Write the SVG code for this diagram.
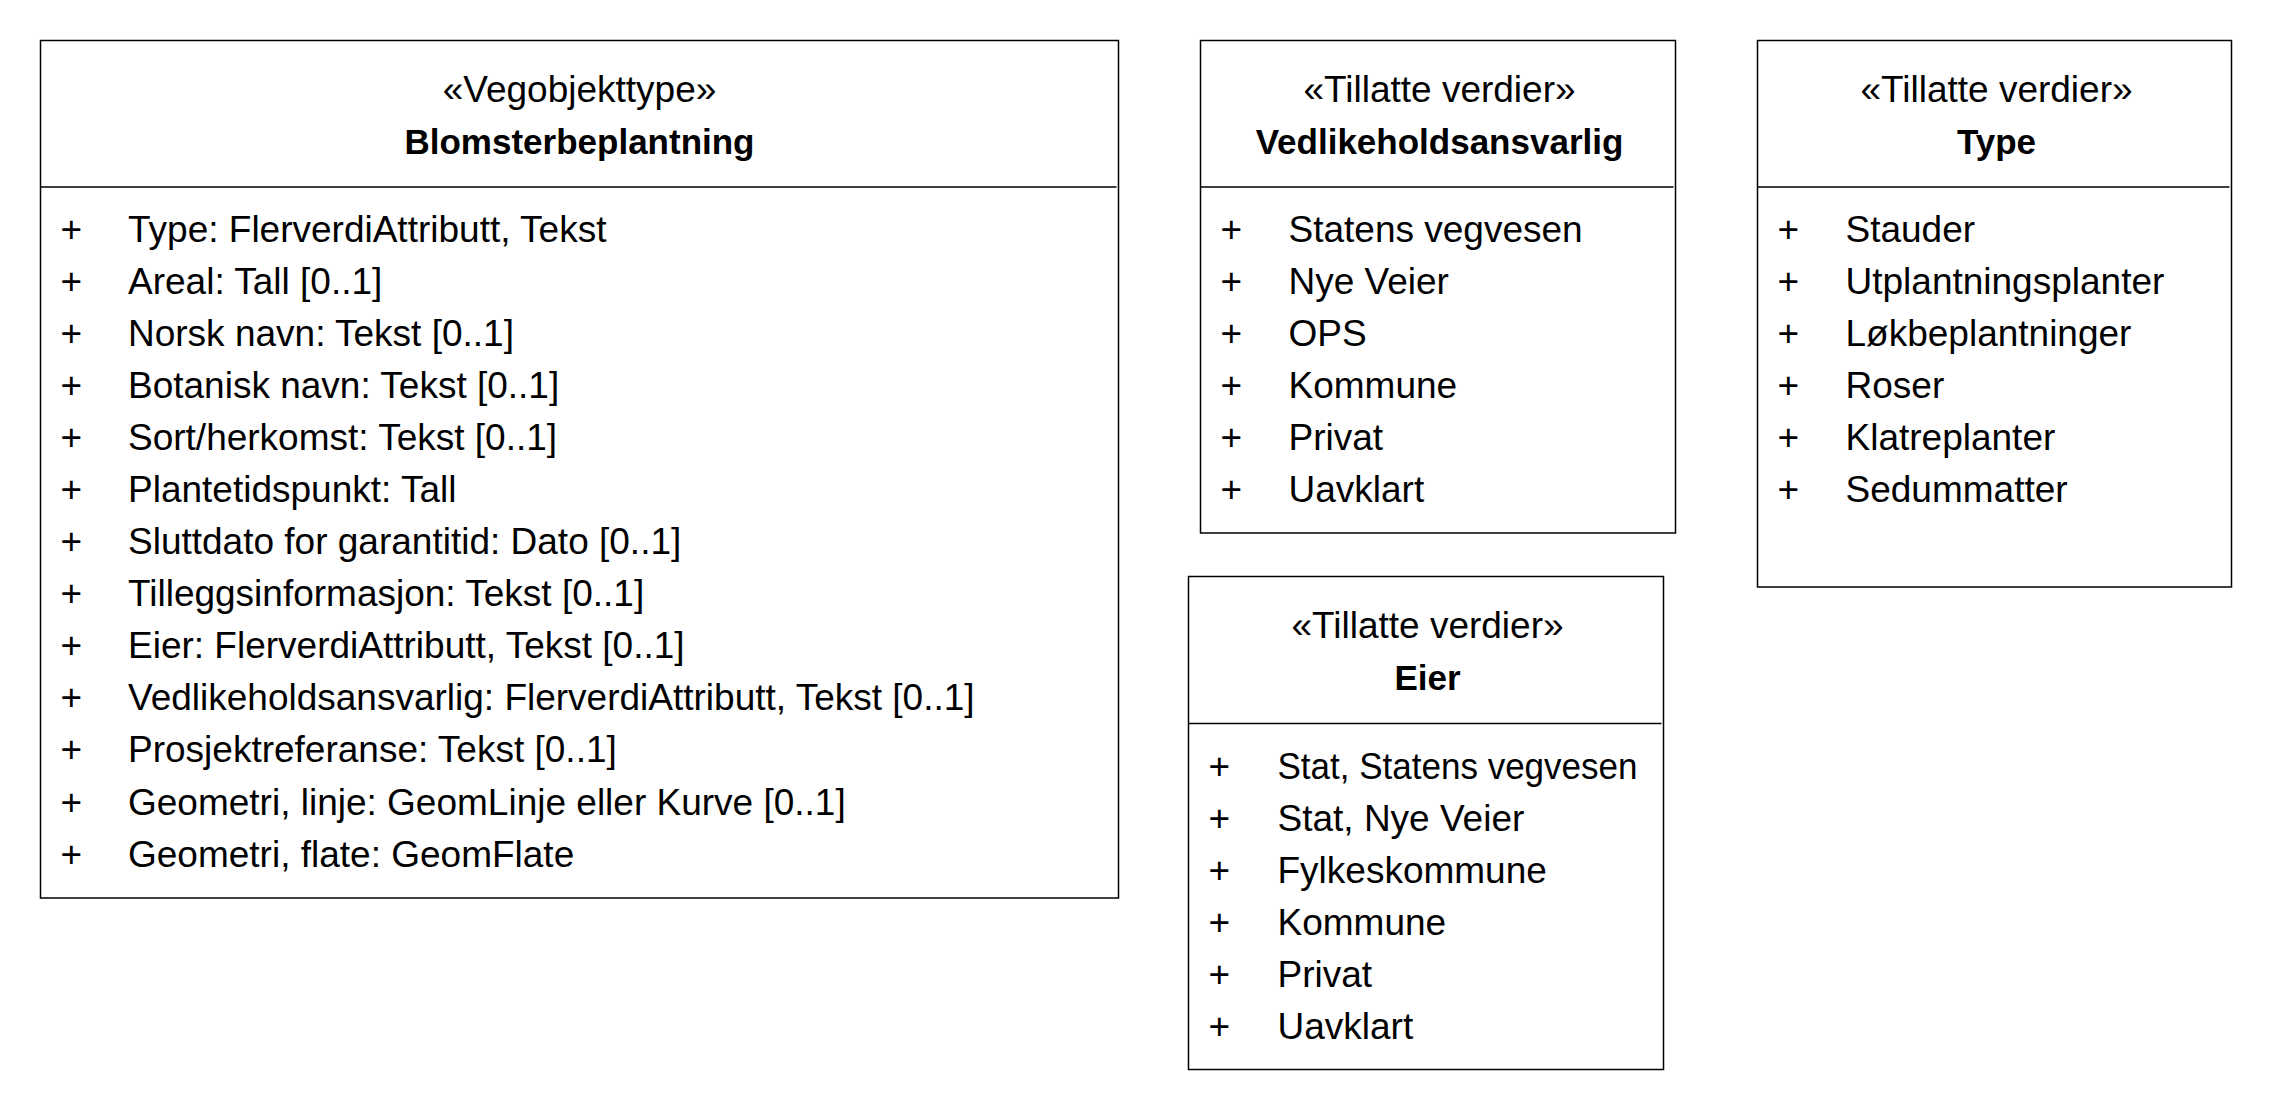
<svg xmlns="http://www.w3.org/2000/svg" width="2272" height="1112" viewBox="0 0 2272 1112">
<style>
  .box { fill: #ffffff; stroke: #000000; stroke-width: 1.5; }
  .div { stroke: #000000; stroke-width: 1.5; }
  text { font-family: "Liberation Sans", Arial, sans-serif; fill: #000000; }
  .st { font-size: 37px; text-anchor: middle; }
  .nm { font-size: 35px; font-weight: bold; text-anchor: middle; }
  .it { font-size: 37px; }
</style>
<rect x="0" y="0" width="2272" height="1112" fill="#ffffff"/>
<g id="connectors"></g>

<g id="blomsterbeplantning" transform="translate(40.5,40.5)">
  <rect class="box" x="0" y="0" width="1078" height="857.5"/>
  <line class="div" x1="0" y1="146.5" x2="1076" y2="146.5"/>
  <text class="st" x="539" y="61">«Vegobjekttype»</text>
  <text class="nm" x="539" y="113">Blomsterbeplantning</text>
  <text class="it" x="20" y="201.5">+</text><text class="it" x="87.5" y="201.5">Type: FlerverdiAttributt, Tekst</text>
  <text class="it" x="20" y="253.5">+</text><text class="it" x="87.5" y="253.5">Areal: Tall [0..1]</text>
  <text class="it" x="20" y="305.6">+</text><text class="it" x="87.5" y="305.6">Norsk navn: Tekst [0..1]</text>
  <text class="it" x="20" y="357.6">+</text><text class="it" x="87.5" y="357.6">Botanisk navn: Tekst [0..1]</text>
  <text class="it" x="20" y="409.7">+</text><text class="it" x="87.5" y="409.7">Sort/herkomst: Tekst [0..1]</text>
  <text class="it" x="20" y="461.7">+</text><text class="it" x="87.5" y="461.7">Plantetidspunkt: Tall</text>
  <text class="it" x="20" y="513.7">+</text><text class="it" x="87.5" y="513.7">Sluttdato for garantitid: Dato [0..1]</text>
  <text class="it" x="20" y="565.8">+</text><text class="it" x="87.5" y="565.8">Tilleggsinformasjon: Tekst [0..1]</text>
  <text class="it" x="20" y="617.8">+</text><text class="it" x="87.5" y="617.8">Eier: FlerverdiAttributt, Tekst [0..1]</text>
  <text class="it" x="20" y="669.9">+</text><text class="it" x="87.5" y="669.9">Vedlikeholdsansvarlig: FlerverdiAttributt, Tekst [0..1]</text>
  <text class="it" x="20" y="721.9">+</text><text class="it" x="87.5" y="721.9">Prosjektreferanse: Tekst [0..1]</text>
  <text class="it" x="20" y="774.0">+</text><text class="it" x="87.5" y="774.0">Geometri, linje: GeomLinje eller Kurve [0..1]</text>
  <text class="it" x="20" y="826.0">+</text><text class="it" x="87.5" y="826.0">Geometri, flate: GeomFlate</text>
</g>

<g id="vedlikeholdsansvarlig" transform="translate(1200.5,40.5)">
  <rect class="box" x="0" y="0" width="475" height="492.5"/>
  <line class="div" x1="0" y1="146.5" x2="473" y2="146.5"/>
  <text class="st" x="239" y="61">«Tillatte verdier»</text>
  <text class="nm" x="239" y="113">Vedlikeholdsansvarlig</text>
  <text class="it" x="20" y="201.5">+</text><text class="it" x="88" y="201.5">Statens vegvesen</text>
  <text class="it" x="20" y="253.5">+</text><text class="it" x="88" y="253.5">Nye Veier</text>
  <text class="it" x="20" y="305.6">+</text><text class="it" x="88" y="305.6">OPS</text>
  <text class="it" x="20" y="357.6">+</text><text class="it" x="88" y="357.6">Kommune</text>
  <text class="it" x="20" y="409.7">+</text><text class="it" x="88" y="409.7">Privat</text>
  <text class="it" x="20" y="461.7">+</text><text class="it" x="88" y="461.7">Uavklart</text>
</g>

<g id="type" transform="translate(1757.5,40.5)">
  <rect class="box" x="0" y="0" width="474" height="546.5"/>
  <line class="div" x1="0" y1="146.5" x2="472" y2="146.5"/>
  <text class="st" x="239" y="61">«Tillatte verdier»</text>
  <text class="nm" x="239" y="113">Type</text>
  <text class="it" x="20" y="201.5">+</text><text class="it" x="88" y="201.5">Stauder</text>
  <text class="it" x="20" y="253.5">+</text><text class="it" x="88" y="253.5">Utplantningsplanter</text>
  <text class="it" x="20" y="305.6">+</text><text class="it" x="88" y="305.6">Løkbeplantninger</text>
  <text class="it" x="20" y="357.6">+</text><text class="it" x="88" y="357.6">Roser</text>
  <text class="it" x="20" y="409.7">+</text><text class="it" x="88" y="409.7">Klatreplanter</text>
  <text class="it" x="20" y="461.7">+</text><text class="it" x="88" y="461.7">Sedummatter</text>
</g>

<g id="eier" transform="translate(1188.5,576.5)">
  <rect class="box" x="0" y="0" width="475" height="493"/>
  <line class="div" x1="0" y1="147" x2="473" y2="147"/>
  <text class="st" x="239" y="61">«Tillatte verdier»</text>
  <text class="nm" x="239" y="113">Eier</text>
  <text class="it" x="20" y="202">+</text><text class="it" x="89" y="202" textLength="360" lengthAdjust="spacingAndGlyphs">Stat, Statens vegvesen</text>
  <text class="it" x="20" y="254">+</text><text class="it" x="89" y="254">Stat, Nye Veier</text>
  <text class="it" x="20" y="306.1">+</text><text class="it" x="89" y="306.1">Fylkeskommune</text>
  <text class="it" x="20" y="358.1">+</text><text class="it" x="89" y="358.1">Kommune</text>
  <text class="it" x="20" y="410.2">+</text><text class="it" x="89" y="410.2">Privat</text>
  <text class="it" x="20" y="462.2">+</text><text class="it" x="89" y="462.2">Uavklart</text>
</g>
</svg>
